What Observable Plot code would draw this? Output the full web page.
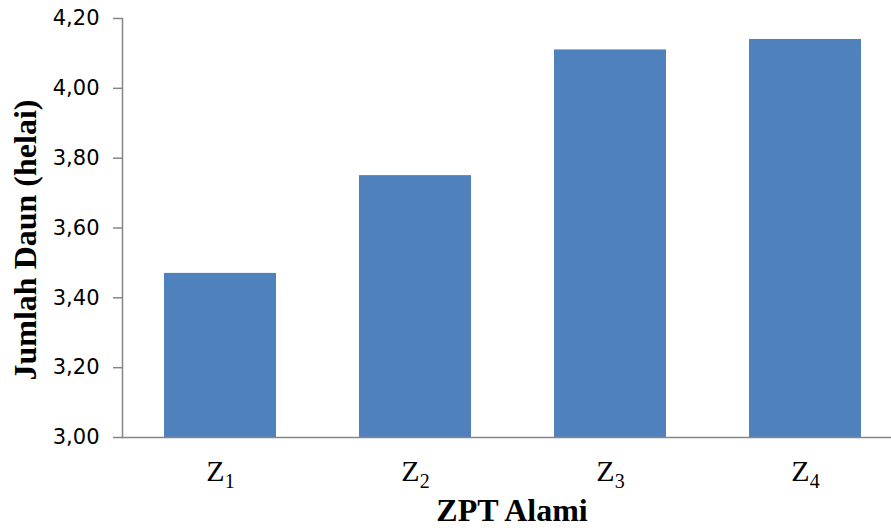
<!DOCTYPE html>
<html>
<head>
<meta charset="utf-8">
<script src="https://cdn.jsdelivr.net/npm/d3@7"></script>
<script src="https://cdn.jsdelivr.net/npm/@observablehq/plot@0.6"></script>
<style>
  html, body { margin: 0; padding: 0; background: #fff; }
  #chart svg { display: block; }
</style>
</head>
<body>
<div id="chart"></div>
<script>
const categories = ["Z1", "Z2", "Z3", "Z4"];
const values = [3.47, 3.75, 4.11, 4.14];
const yTicks = [3.0, 3.2, 3.4, 3.6, 3.8, 4.0, 4.2];
const xTitle = "ZPT Alami";
const yTitle = "Jumlah Daun (helai)";

const data = categories.map((c, i) => ({cat: c, val: values[i]}));
const axisColor = "#868686";
const serif = "'Liberation Serif', 'Times New Roman', serif";

const chart = Plot.plot({
  width: 891,
  height: 528,
  marginTop: 18,
  marginBottom: 91,
  marginLeft: 122,
  marginRight: 0,
  style: {fontFamily: "'DejaVu Sans', sans-serif", background: "#fff", color: "#000"},
  x: {domain: categories, range: [122, 902], paddingInner: 0.426, paddingOuter: 0.213},
  y: {domain: [3.0, 4.2]},
  marks: [
    Plot.barY(data, {x: "cat", y1: 3.0, y2: "val", fill: "#4F81BD"}),
    Plot.frame({anchor: "left", stroke: axisColor, strokeWidth: 1.5}),
    Plot.frame({anchor: "bottom", stroke: axisColor, strokeWidth: 1.5}),
    Plot.axisY({
      ticks: yTicks,
      tickSize: 9,
      tickPadding: 14,
      stroke: axisColor,
      strokeWidth: 1.5,
      fontSize: 21,
      tickFormat: d => d.toFixed(2).replace(".", ","),
      label: null
    }),
    Plot.axisX({
      tickSize: 0,
      tickPadding: 22,
      fontSize: 30,
      fontFamily: serif,
      label: null
    }),
    Plot.text([yTitle], {
      text: d => d,
      frameAnchor: "left",
      textAnchor: "middle",
      rotate: -90,
      dx: -97,
      dy: 12,
      fontSize: 32,
      fontWeight: "bold",
      fontFamily: serif,
      fill: "#000"
    }),
    Plot.text([xTitle], {
      text: d => d,
      frameAnchor: "bottom",
      dx: 5,
      dy: 83,
      fontSize: 32,
      fontWeight: "bold",
      fontFamily: serif,
      fill: "#000"
    })
  ]
});

// Render category labels with subscript digits (Z + subscript n)
d3.select(chart).selectAll("g[aria-label='x-axis tick label'] text").each(function() {
  const t = this.textContent;
  const sel = d3.select(this);
  sel.text(null);
  sel.append("tspan").text(t.slice(0, 1));
  sel.append("tspan").attr("font-size", 20).attr("dy", 7).text(t.slice(1));
});

document.getElementById("chart").appendChild(chart);
</script>
</body>
</html>
